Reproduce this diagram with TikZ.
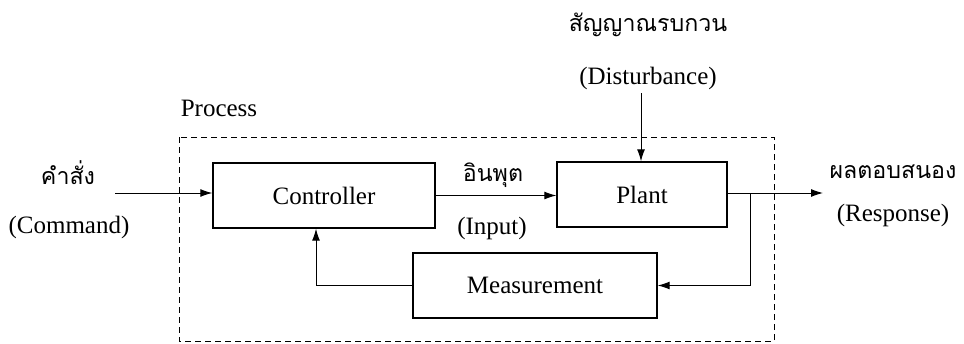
\documentclass[tikz,border=0pt]{standalone}
\usepackage{fontspec}
\setmainfont{Liberation Serif}
\newfontfamily\thaifont[Script=Thai]{Loma}
\usetikzlibrary{arrows.meta}
\begin{document}
\begin{tikzpicture}[x=0.5pt,y=-0.5pt,font=\fontsize{12.5}{15}\selectfont,
  >={Latex[length=6pt,width=4pt]},line width=0.5pt,
  blok/.style={draw,line width=0.7pt,inner sep=0pt,minimum height=32.5pt},
  thai/.style={font=\thaifont\fontsize{11.6}{14}\selectfont}]
\useasboundingbox (0,0) rectangle (964,343);

\draw[dashed,dash pattern=on 3pt off 2pt] (179,137) rectangle (774,341); % Process
\node (proc) at (219,108) {Process};

\node[blok,minimum width=111pt] (ctrl) at (324,195.5) {Controller};
\node[blok,minimum width=85pt] (plant) at (642,194.5) {Plant};
\node[blok,minimum width=122pt] (meas) at (535,285.5) {Measurement};

\node[thai] (cmdth) at (68,173) {คำสั่ง};
\node (cmden) at (69,227) {(Command)};
\node[thai] (inth) at (493,175) {อินพุต};
\node (inen) at (492,228) {(Input)};
\node[thai] (distth) at (648,25) {สัญญาณรบกวน};
\node (disten) at (648,78) {(Disturbance)};
\node[thai] (respth) at (893,172) {ผลตอบสนอง};
\node (respen) at (893,215) {(Response)};

\coordinate (cmd) at (115,193);
\coordinate (dist) at (641,93);
\coordinate (resp) at (823,193);
\coordinate (br) at (750,193);

\draw[->] (cmd) -- (cmd -| ctrl.west);
\draw[->] (ctrl.east) -- (ctrl.east -| plant.west);
\draw[->] (dist) -- (dist |- plant.north);
\draw[->] (plant.east |- resp) -- (resp);
\draw[->] (br) |- (meas.east);
\draw[->] (meas.west) -| ([xshift=-4pt]ctrl.south);

\end{tikzpicture}
\end{document}
